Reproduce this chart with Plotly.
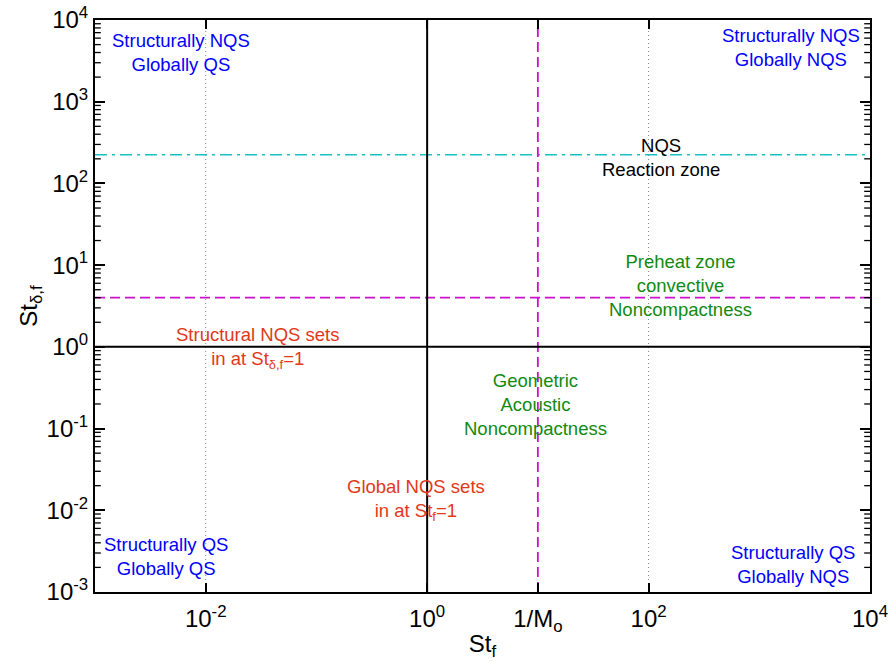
import plotly.graph_objects as go

# Regime boundaries on the St_f / St_delta,f map
st_unity = 1.0          # St_f = 1 and St_delta,f = 1
inv_mach = 10.0         # 1/M_o
st_preheat = 4.0        # preheat-zone convective noncompactness
st_reaction = 224.0     # reaction-zone NQS threshold
grid_x = [1e-2, 1e2]    # dotted reference lines

x_range = [1e-3, 1e4]
y_range = [1e-3, 1e4]

x_tickvals = [1e-2, 1e0, inv_mach, 1e2, 1e4]
x_ticktext = ["10<sup>-2</sup>", "10<sup>0</sup>", "1/M<sub>o</sub>",
              "10<sup>2</sup>", "10<sup>4</sup>"]
y_tickvals = [1e-3, 1e-2, 1e-1, 1e0, 1e1, 1e2, 1e3, 1e4]
y_ticktext = ["10<sup>-3</sup>", "10<sup>-2</sup>", "10<sup>-1</sup>",
              "10<sup>0</sup>", "10<sup>1</sup>", "10<sup>2</sup>",
              "10<sup>3</sup>", "10<sup>4</sup>"]
y_minor = [m * 10.0 ** e for e in range(-3, 4) for m in range(2, 10)]

# Region labels: (text, log10 x, log10 y, colour)
BLUE = "#0000ff"
GREEN = "#118a11"
RED = "#e2381a"
labels = [
    ("Structurally NQS<br>Globally QS", -2.22, 3.60, BLUE),
    ("Structurally NQS<br>Globally NQS", 3.29, 3.66, BLUE),
    ("NQS<br>Reaction zone", 2.11, 2.32, "black"),
    ("Preheat zone<br>convective<br>Noncompactness", 2.29, 0.745, GREEN),
    ("Structural NQS sets<br>in at St<sub>δ,f</sub>=1", -1.53, -0.02, RED),
    ("Geometric<br>Acoustic<br>Noncompactness", 0.98, -0.71, GREEN),
    ("Global NQS sets<br>in at St<sub>f</sub>=1", -0.10, -1.88, RED),
    ("Structurally QS<br>Globally QS", -2.36, -2.57, BLUE),
    ("Structurally QS<br>Globally NQS", 3.30, -2.66, BLUE),
]

FONT = "Liberation Sans, Arial, Helvetica, sans-serif"

fig = go.Figure()

for gx in grid_x:
    fig.add_trace(go.Scatter(x=[gx, gx], y=y_range, mode="lines",
                             line=dict(color="#888888", width=1, dash="1px,3px"),
                             hoverinfo="skip", showlegend=False))

fig.add_trace(go.Scatter(x=x_range, y=[st_reaction, st_reaction], mode="lines",
                         line=dict(color="#1bbfbf", width=1.6,
                                   dash="12px,5px,3px,5px"),
                         showlegend=False))
fig.add_trace(go.Scatter(x=x_range, y=[st_preheat, st_preheat], mode="lines",
                         line=dict(color="#cc11cc", width=1.8, dash="10px,5px"),
                         showlegend=False))
fig.add_trace(go.Scatter(x=[inv_mach, inv_mach], y=y_range, mode="lines",
                         line=dict(color="#cc11cc", width=1.8, dash="10px,5px"),
                         showlegend=False))
fig.add_trace(go.Scatter(x=x_range, y=[st_unity, st_unity], mode="lines",
                         line=dict(color="black", width=2), showlegend=False))
fig.add_trace(go.Scatter(x=[st_unity, st_unity], y=y_range, mode="lines",
                         line=dict(color="black", width=2), showlegend=False))

# Minor y ticks on both frame sides (inside), placed on the log y scale
for v in y_minor:
    for x0, x1 in ((0.0, 0.0075), (0.9925, 1.0)):
        fig.add_shape(type="line", xref="x domain", yref="y",
                      x0=x0, x1=x1, y0=v, y1=v, layer="above",
                      line=dict(color="black", width=1.3))

for text, lx, ly, col in labels:
    fig.add_annotation(x=lx, y=ly, xref="x", yref="y", text=text,
                       showarrow=False, align="center",
                       font=dict(size=18.5, color=col, family=FONT))

axis_font = dict(size=24, color="black", family=FONT)

fig.update_xaxes(type="log", range=[-3, 4], tickvals=x_tickvals, ticktext=x_ticktext,
                 ticks="inside", ticklen=9, tickwidth=2, tickcolor="black",
                 showline=True, linecolor="black", linewidth=2, mirror="allticks",
                 showgrid=False, zeroline=False, tickfont=axis_font,
                 automargin=False, ticklabelstandoff=4,
                 title=dict(text="St<sub>f</sub>", font=axis_font, standoff=2))
fig.update_yaxes(type="log", range=[-3, 4], tickvals=y_tickvals, ticktext=y_ticktext,
                 ticks="inside", ticklen=10, tickwidth=2, tickcolor="black",
                 showline=True, linecolor="black", linewidth=2, mirror="allticks",
                 showgrid=False, zeroline=False, tickfont=axis_font,
                 automargin=False,
                 title=dict(text="St<sub>δ,f</sub>", font=axis_font, standoff=2))

fig.update_layout(
    width=890, height=661,
    margin=dict(l=95, r=20, t=20, b=69),
    paper_bgcolor="white", plot_bgcolor="white",
    showlegend=False,
)

fig.write_html("out.html")
